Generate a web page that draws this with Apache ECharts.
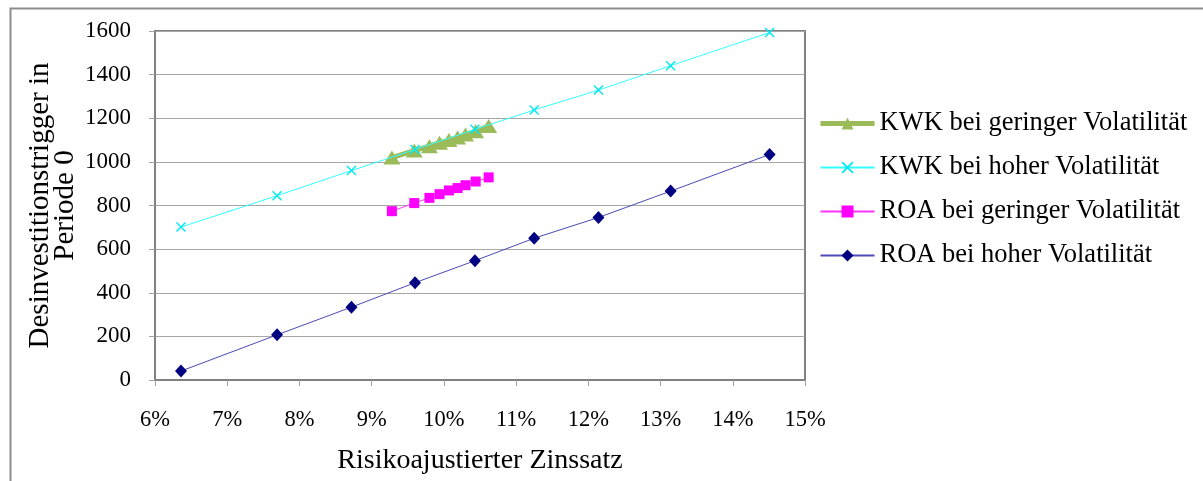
<!DOCTYPE html>
<html>
<head>
<meta charset="utf-8">
<script src="https://cdn.jsdelivr.net/npm/echarts@6/dist/echarts.min.js"></script>
<style>
html,body{margin:0;padding:0;background:#fff;}
#chart{width:1203px;height:481px;}
</style>
</head>
<body>
<div id="chart"></div>
<script>
// Risk-adjusted interest rate (%) for high-volatility series
var ratesHigh = [6.36, 7.69, 8.72, 9.60, 10.43, 11.25, 12.14, 13.14, 14.51];
// Risk-adjusted interest rate (%) for low-volatility series
var ratesLow = [9.28, 9.59, 9.80, 9.94, 10.07, 10.19, 10.30, 10.44, 10.62];

var kwkLow  = [1020, 1052, 1072, 1088, 1100, 1112, 1125, 1140, 1165];
var kwkHigh = [701, 845, 960, 1057, 1149, 1238, 1329, 1441, 1593];
var roaLow  = [774, 811, 835, 852, 869, 880, 893, 910, 929];
var roaHigh = [41, 207, 334, 446, 547, 650, 745, 866, 1034];

var seriesNames = [
  'KWK bei geringer Volatilität',
  'KWK bei hoher Volatilität',
  'ROA bei geringer Volatilität',
  'ROA bei hoher Volatilität'
];
var xTitle = 'Risikoajustierter Zinssatz';
var yTitle = 'Desinvestitionstrigger in\nPeriode 0';

function pairs(xs, ys) { return xs.map(function (x, i) { return [x, ys[i]]; }); }

var FONT = "'Liberation Serif', 'Times New Roman', serif";
var crossPath = 'path://M0,1 L1,0 L5,4 L9,0 L10,1 L6,5 L10,9 L9,10 L5,6 L1,10 L0,9 L4,5 Z';

var chart = echarts.init(document.getElementById('chart'));
chart.setOption({
  animation: false,
  backgroundColor: '#ffffff',
  textStyle: { fontFamily: FONT, color: '#000' },
  graphic: [{
    type: 'rect', left: 8, top: 6, silent: true,
    shape: { width: 1300, height: 600 },
    style: { fill: 'none', stroke: '#8c8c8c', lineWidth: 2 }
  }],
  grid: {
    left: 155, right: 398, top: 31, bottom: 101,
    containLabel: false, outerBoundsMode: 'none',
    show: true, borderColor: '#808080', borderWidth: 2, backgroundColor: 'transparent'
  },
  legend: {
    orient: 'vertical', left: 818, top: 110, padding: 0,
    itemWidth: 54, itemHeight: 15, itemGap: 17,
    textStyle: { fontFamily: FONT, fontSize: 26.5, color: '#000' },
    data: [
      { name: seriesNames[0], lineStyle: { width: 5 } },
      { name: seriesNames[1] },
      { name: seriesNames[2] },
      { name: seriesNames[3] }
    ]
  },
  xAxis: {
    type: 'value', min: 6, max: 15, interval: 1,
    name: xTitle, nameLocation: 'middle', nameGap: 67, nameMoveOverlap: false,
    nameTextStyle: { fontFamily: FONT, fontSize: 28, color: '#000' },
    axisLine: { show: true, lineStyle: { color: '#808080', width: 2 } },
    axisTick: { show: true, inside: false, length: 6, lineStyle: { color: '#a0a0a0' } },
    axisLabel: { fontFamily: FONT, fontSize: 22.5, color: '#000', margin: 29,
      formatter: function (v) { return Math.round(v) + '%'; } },
    splitLine: { show: false }
  },
  yAxis: {
    type: 'value', min: 0, max: 1600, interval: 200,
    name: yTitle, nameLocation: 'middle', nameGap: 77, nameRotate: 90, nameMoveOverlap: false,
    nameTextStyle: { fontFamily: FONT, fontSize: 29, color: '#000', lineHeight: 25 },
    axisLine: { show: true, lineStyle: { color: '#808080', width: 2 } },
    axisTick: { show: true, inside: false, length: 6, lineStyle: { color: '#a0a0a0' } },
    axisLabel: { fontFamily: FONT, fontSize: 23, color: '#000', margin: 24,
      formatter: function (v) { return String(v); } },
    splitLine: { show: true, lineStyle: { color: '#a6a6a6', width: 1 } }
  },
  series: [
    {
      name: seriesNames[0], type: 'line', data: pairs(ratesLow, kwkLow),
      symbol: 'triangle', symbolSize: [17, 14], z: 3,
      lineStyle: { color: '#9BBB59', width: 5 },
      itemStyle: { color: '#9BBB59' }
    },
    {
      name: seriesNames[1], type: 'line', data: pairs(ratesHigh, kwkHigh),
      symbol: crossPath, symbolSize: 10, z: 4,
      lineStyle: { color: '#33ffff', width: 1 },
      itemStyle: { color: '#00e8f0' }
    },
    {
      name: seriesNames[2], type: 'line', data: pairs(ratesLow, roaLow),
      symbol: 'rect', symbolSize: 10, z: 3,
      lineStyle: { color: '#ff33ff', width: 1 },
      itemStyle: { color: '#ff00ff' }
    },
    {
      name: seriesNames[3], type: 'line', data: pairs(ratesHigh, roaHigh),
      symbol: 'diamond', symbolSize: [12, 13], z: 3,
      lineStyle: { color: '#4a4ab8', width: 1 },
      itemStyle: { color: '#000080' }
    }
  ]
});
</script>
</body>
</html>
